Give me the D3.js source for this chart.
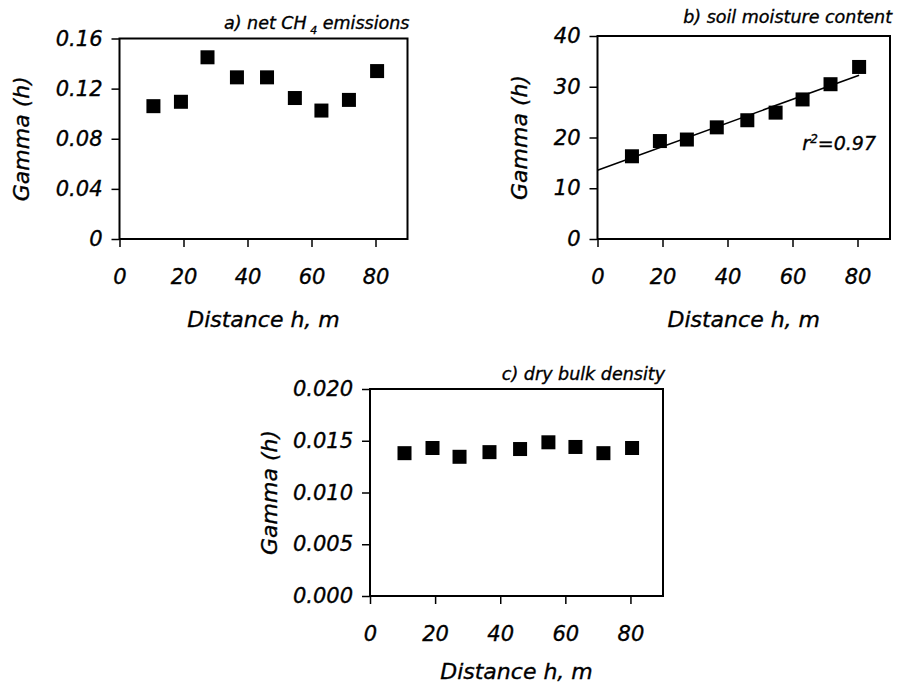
<!DOCTYPE html>
<html>
<head>
<meta charset="utf-8">
<script src="https://cdn.jsdelivr.net/npm/d3@7"></script>
<style>
  body { margin: 0; background: #fff; }
  svg { display: block; }
  text { font-family: "DejaVu Sans", sans-serif; font-style: italic; fill: #000; stroke: #000; stroke-width: 0.35px; }
</style>
</head>
<body>
<svg id="chart" width="902" height="686"></svg>
<script>
// lag distances (m), shared by the three semivariograms
const lagDistance = [10.6, 19.2, 27.5, 36.7, 46.1, 54.8, 63.1, 71.7, 80.5];

// a) net CH4 emissions
const gammaCH4 = [0.106, 0.1095, 0.145, 0.129, 0.129, 0.1125, 0.1025, 0.111, 0.134];
const ticksCH4 = [0, 0.04, 0.08, 0.12, 0.16];

// b) soil moisture content
const gammaMoisture = [16.3, 19.3, 19.6, 22.0, 23.4, 24.9, 27.5, 30.5, 33.9];
const ticksMoisture = [0, 10, 20, 30, 40];

// c) dry bulk density
const gammaDensity = [0.0138, 0.0143, 0.01345, 0.0139, 0.0142, 0.01485, 0.0144, 0.0138, 0.0143];
const ticksDensity = [0, 0.005, 0.010, 0.015, 0.020];

const xTicks = [0, 20, 40, 60, 80];

const svg = d3.select('#chart');

function drawPanel({ left, top, width, height, yMax, yTicks, yFormat, values, title, titleDy, yTitleOffset, xTitleDy, fit, r2 }) {
    const x = d3.scaleLinear().domain([0, 90]).range([left, left + width]);
    const y = d3.scaleLinear().domain([0, yMax]).range([top + height, top]);
    const g = svg.append('g');

    // frame
    g.append('rect')
        .attr('x', left).attr('y', top)
        .attr('width', width).attr('height', height)
        .attr('fill', 'none').attr('stroke', '#000').attr('stroke-width', 2);

    // x axis
    const xAxis = g.append('g')
        .attr('transform', `translate(0,${top + height})`)
        .call(d3.axisBottom(x).tickValues(xTicks).tickSize(8).tickPadding(22).tickSizeOuter(0).tickFormat(d3.format('d')));
    xAxis.select('.domain').remove();
    xAxis.selectAll('line').attr('stroke-width', 1.5);
    xAxis.selectAll('text').attr('font-size', 21).attr('font-family', '"DejaVu Sans", sans-serif').attr('font-style', 'italic');

    // y axis
    const yAxis = g.append('g')
        .attr('transform', `translate(${left},0)`)
        .call(d3.axisLeft(y).tickValues(yTicks).tickSize(8).tickPadding(9).tickSizeOuter(0).tickFormat(yFormat));
    yAxis.select('.domain').remove();
    yAxis.selectAll('line').attr('stroke-width', 1.5);
    yAxis.selectAll('text').attr('font-size', 21).attr('font-family', '"DejaVu Sans", sans-serif').attr('font-style', 'italic');

    // regression line
    if (fit) {
        const mx = d3.mean(lagDistance), my = d3.mean(values);
        const slope = d3.sum(lagDistance, (d, i) => (d - mx) * (values[i] - my)) / d3.sum(lagDistance, d => (d - mx) ** 2);
        const icpt = my - slope * mx;
        const xEnd = d3.max(lagDistance);
        g.append('line')
            .attr('x1', x(0)).attr('y1', y(icpt))
            .attr('x2', x(xEnd)).attr('y2', y(icpt + slope * xEnd))
            .attr('stroke', '#000').attr('stroke-width', 1.6);
    }

    // points
    const s = 14;
    g.selectAll('rect.pt')
        .data(values)
        .enter()
        .append('rect')
        .attr('class', 'pt')
        .attr('x', (d, i) => x(lagDistance[i]) - s / 2)
        .attr('y', d => y(d) - s / 2)
        .attr('width', s).attr('height', s)
        .attr('fill', '#000');

    // panel title (right-aligned with frame)
    const t = g.append('text')
        .attr('x', left + width + 2)
        .attr('y', top - titleDy)
        .attr('text-anchor', 'end')
        .attr('font-size', 17.5);
    title(t);

    if (r2) {
        const r = g.append('text')
            .attr('x', left + width - 14)
            .attr('y', y(17.5))
            .attr('text-anchor', 'end')
            .attr('font-size', 19);
        r.append('tspan').text('r');
        r.append('tspan').attr('font-size', 12).attr('dy', -7).text('2');
        r.append('tspan').attr('dy', 7).text(r2);
    }

    // axis titles
    g.append('text')
        .attr('x', left + width / 2)
        .attr('y', top + height + xTitleDy)
        .attr('text-anchor', 'middle')
        .attr('font-size', 22)
        .text('Distance h, m');

    g.append('text')
        .attr('transform', `translate(${left - yTitleOffset},${top + height / 2}) rotate(-90)`)
        .attr('text-anchor', 'middle')
        .attr('dy', '0.35em')
        .attr('font-size', 22)
        .text('Gamma (h)');
}

drawPanel({
    left: 119.5, top: 38.5, width: 288, height: 200.5,
    yMax: 0.16, yTicks: ticksCH4, yFormat: d => d === 0 ? '0' : d3.format('.2f')(d),
    values: gammaCH4, titleDy: 10, yTitleOffset: 98, xTitleDy: 88,
    title: t => {
        t.append('tspan').text('a) net CH');
        t.append('tspan').attr('font-size', 11).attr('dy', 5).text(' 4');
        t.append('tspan').attr('dy', -5).text(' emissions');
    }
});

drawPanel({
    left: 597.5, top: 36, width: 292.5, height: 203,
    yMax: 40, yTicks: ticksMoisture, yFormat: d3.format('d'),
    values: gammaMoisture, titleDy: 13, yTitleOffset: 78, xTitleDy: 88, fit: true, r2: '=0.97',
    title: t => t.text('b) soil moisture content')
});

drawPanel({
    left: 370, top: 389, width: 293, height: 207,
    yMax: 0.020, yTicks: ticksDensity, yFormat: d3.format('.3f'),
    values: gammaDensity, titleDy: 9, yTitleOffset: 101, xTitleDy: 83,
    title: t => t.text('c) dry bulk density')
});
</script>
</body>
</html>
